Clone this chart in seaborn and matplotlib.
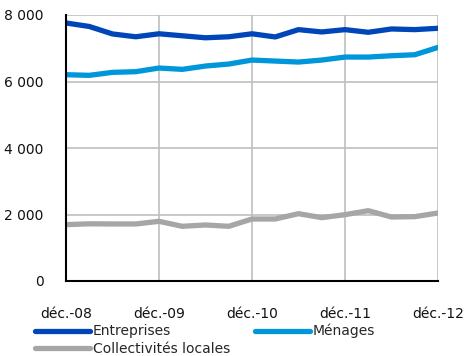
import matplotlib
matplotlib.use("Agg")
import matplotlib.pyplot as plt
import matplotlib.ticker as mticker
import numpy as np
import pandas as pd
import seaborn as sns

# Quarterly outstanding amounts, Dec. 2008 - Dec. 2012
quarters = list(range(17))
entreprises = [7760, 7655, 7430, 7345, 7435, 7375, 7315, 7345, 7435, 7340,
               7560, 7490, 7560, 7480, 7580, 7560, 7600]
menages = [6205, 6185, 6275, 6295, 6405, 6365, 6465, 6525, 6645, 6615,
           6585, 6645, 6735, 6735, 6775, 6805, 7025]
collectivites = [1695, 1720, 1715, 1715, 1795, 1645, 1685, 1645, 1865, 1865,
                 2025, 1905, 1995, 2115, 1925, 1935, 2045]
x_tick_pos = [0, 4, 8, 12, 16]
x_tick_labels = ["déc.-08", "déc.-09", "déc.-10", "déc.-11", "déc.-12"]
series_names = ["Entreprises", "Ménages", "Collectivités locales"]
palette = ["#0046B9", "#0096DA", "#A6A6A6"]

df = pd.DataFrame({
    "t": quarters * 3,
    "value": entreprises + menages + collectivites,
    "serie": [series_names[0]] * 17 + [series_names[1]] * 17 + [series_names[2]] * 17,
})

sns.set_theme(style="white")
plt.rcParams["font.family"] = ["DejaVu Sans"]

fig = plt.figure(figsize=(4.66, 3.56), dpi=100)
ax = fig.add_axes([66 / 466, 1 - 281 / 356, 372 / 466, 266 / 356])

sns.lineplot(data=df, x="t", y="value", hue="serie", hue_order=series_names,
             palette=palette, linewidth=3.8, ax=ax, legend=False,
             solid_capstyle="round")

ax.set_xlim(0, 16)
ax.set_ylim(0, 8000)
ax.set_xticks(x_tick_pos)
ax.set_xticklabels(x_tick_labels)
ax.set_yticks([0, 2000, 4000, 6000, 8000])
ax.yaxis.set_major_formatter(mticker.FuncFormatter(
    lambda v, p: f"{int(v):,}".replace(",", " ")))
ax.set_xlabel("")
ax.set_ylabel("")

ax.grid(True, color="#BFBFBF", linewidth=1.2)
ax.set_axisbelow(True)
for side in ["top", "right"]:
    ax.spines[side].set_visible(False)
for side in ["left", "bottom"]:
    ax.spines[side].set_color("black")
    ax.spines[side].set_linewidth(1.5)

ax.tick_params(axis="x", direction="in", length=5, width=1.5, color="black",
               labelsize=10, pad=19, labelcolor="#111111")
ax.tick_params(axis="y", length=0, labelsize=10, pad=16, labelcolor="#111111")

# legend: row 1 = Entreprises, Ménages ; row 2 = Collectivités locales
handles = {n: plt.Line2D([], [], color=c, linewidth=3.8, solid_capstyle="round")
           for n, c in zip(series_names, palette)}
order = [series_names[0], series_names[2], series_names[1]]
fig.legend([handles[n] for n in order], order, loc="upper left", ncol=2,
           bbox_to_anchor=(35 / 466, 1 - 324 / 356), frameon=False, fontsize=10,
           handlelength=3.95, handletextpad=0.2, columnspacing=1.8,
           labelspacing=0.22, borderpad=0, borderaxespad=0)

fig.savefig("out.png", dpi=100)
